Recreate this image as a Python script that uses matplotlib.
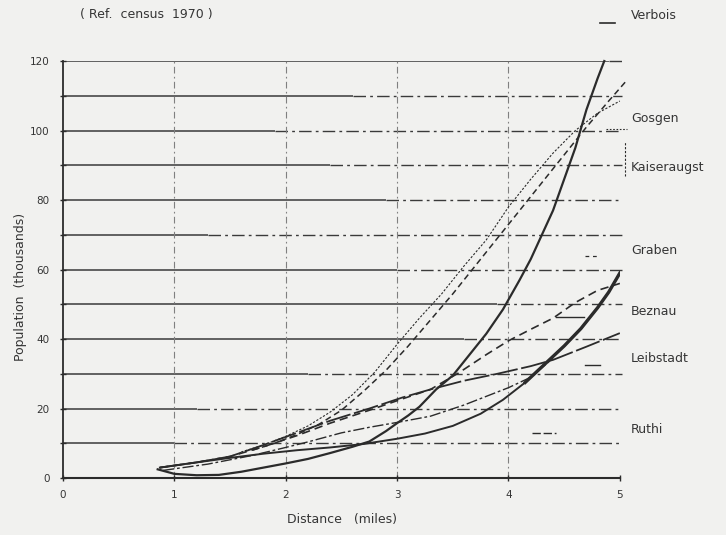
import matplotlib
matplotlib.use("Agg")
import matplotlib.pyplot as plt

# population within distance of each site (thousands)
verbois_x = [0.85, 1.0, 1.2, 1.4, 1.6, 1.8, 2.0, 2.2, 2.4, 2.6, 2.75, 2.9, 3.0, 3.1, 3.2,
             3.35, 3.5, 3.65, 3.8, 3.95, 4.1, 4.2, 4.3, 4.4, 4.5, 4.6, 4.7, 4.8, 4.86]
verbois_y = [2.5, 1.2, 0.8, 0.9, 1.8, 3.0, 4.2, 5.5, 7.2, 9.0, 10.5, 13.5, 15.8, 18.0, 20.5,
             25.5, 29.5, 35.5, 41.5, 48.5, 57, 63, 70, 77, 86, 95, 106, 115, 120]

gosgen_x = [1.6, 1.8, 2.0, 2.2, 2.4, 2.6, 2.8, 3.0, 3.2, 3.4, 3.6, 3.8, 4.0, 4.2, 4.4, 4.6, 4.8, 5.0]
gosgen_y = [7.5, 9.5, 12, 15, 19, 24, 30.5, 38.5, 46, 53, 61, 68.5, 78, 86, 93.5, 100, 105, 108.5]

kaiseraugst_x = [1.7, 1.9, 2.1, 2.3, 2.5, 2.7, 2.9, 3.1, 3.3, 3.5, 3.7, 3.9, 4.1, 4.3, 4.5, 4.7, 4.9, 5.05]
kaiseraugst_y = [8, 10, 12.5, 15.5, 19.5, 25, 31, 38, 45.5, 53, 61, 69, 77, 85, 93, 101, 108.5, 114]

graben_x = [0.87, 1.2, 1.5, 1.8, 2.1, 2.4, 2.7, 3.0, 3.25, 3.5, 3.75, 3.95, 4.15, 4.35,
            4.5, 4.65, 4.8, 4.9, 5.0]
graben_y = [3.0, 4.5, 5.8, 7.0, 8.0, 8.8, 9.8, 11.3, 12.8, 15.0, 18.5, 22.5, 27.5, 33.5,
            38, 43, 49, 53.5, 59]

beznau_x = [0.87, 1.2, 1.5, 1.8, 2.1, 2.4, 2.75, 3.05, 3.3, 3.55, 3.8, 4.0, 4.2, 4.4, 4.6, 4.8, 5.0]
beznau_y = [3.0, 4.5, 6.2, 9.0, 12.2, 15.8, 19.5, 22.8, 25.5, 30.2, 35.5, 39.5, 42.8, 46.0, 50.5, 54.0, 56.0]

leibstadt_x = [0.87, 1.2, 1.5, 1.8, 2.1, 2.4, 2.75, 3.05, 3.3, 3.6, 3.9, 4.2, 4.4, 4.7, 5.0]
leibstadt_y = [3.0, 4.5, 6.2, 9.5, 13.0, 16.5, 20.0, 23.2, 25.5, 28.0, 30.0, 32.2, 34.0, 37.8, 41.7]

ruthi_x = [0.9, 1.3, 1.7, 2.0, 2.2, 2.5, 2.75, 3.0, 3.3, 3.6, 3.8, 4.0, 4.2, 4.4]
ruthi_y = [2.2, 4.0, 6.5, 8.8, 10.4, 13.0, 14.6, 16.0, 17.8, 21.0, 23.5, 26.0, 29.0, 34.5]

site_names = ["Verbois", "Gosgen", "Kaiseraugst", "Graben", "Beznau", "Leibstadt", "Ruthi"]
label_y = [133, 103.5, 89.5, 65.5, 48, 34.5, 14]

x_ticks = [0, 1, 2, 3, 4, 5]
y_ticks = [0, 20, 40, 60, 80, 100, 120]
y_grid = [10, 20, 30, 40, 50, 60, 70, 80, 90, 100, 110, 120]

ink = "#2b2b2b"
txt = "#353535"
paper = "#f1f1ef"

fig = plt.figure(figsize=(7.26, 5.35), dpi=100, facecolor=paper)
ax = fig.add_axes([0.0868, 0.1065, 0.767, 0.7794])
ax.set_facecolor(paper)
ax.set_xlim(0, 5)
ax.set_ylim(0, 120)

# grid: horizontal lines mostly solid on the left, broken towards the right
solid_to = [4.9, 2.6, 1.9, 2.4, 2.9, 1.3, 3.0, 3.9, 3.6, 2.2, 1.2, 1.0]
for yv, xs in zip(y_grid[::-1], solid_to):
    ax.plot([0, xs], [yv, yv], color="#3a3a3a", lw=1.1, solid_capstyle="butt", zorder=1)
    ax.plot([xs, 5.02], [yv, yv], color="#3a3a3a", lw=1.0, ls=(0, (9, 3, 2, 3)),
            zorder=1, clip_on=False)
for xv in x_ticks[1:-1]:
    ax.axvline(xv, color="#808080", lw=0.8, ls=(0, (6, 3, 1.5, 3)), zorder=1)

# curves
ax.plot(ruthi_x, ruthi_y, color=ink, lw=1.0, ls=(0, (8, 2, 2, 2)), zorder=3)
ax.plot(leibstadt_x, leibstadt_y, color=ink, lw=1.3, ls=(0, (14, 2)), zorder=3)
ax.plot(beznau_x, beznau_y, color=ink, lw=1.2, ls=(0, (5, 3)), zorder=3)
ax.plot(graben_x, graben_y, color=ink, lw=1.4, zorder=3)
ax.plot(graben_x[-7:], graben_y[-7:], color=ink, lw=2.4, zorder=3)
ax.plot(gosgen_x, gosgen_y, color=ink, lw=0.8, ls=(0, (2, 1.5)), zorder=3, clip_on=False)
ax.plot(kaiseraugst_x, kaiseraugst_y, color=ink, lw=1.1, ls=(0, (4, 2.5)), zorder=3, clip_on=False)
ax.plot(verbois_x, verbois_y, color=ink, lw=1.6, zorder=4, clip_on=False)

# site labels on the right, with small line samples
for name, yv in zip(site_names, label_y):
    ax.text(5.1, yv, name, fontsize=9, color=txt, va="center", ha="left", clip_on=False)
ax.plot([4.82, 4.96], [131, 131], color=ink, lw=1.2, clip_on=False)
ax.plot([4.88, 5.06], [100.5, 100.5], color=ink, lw=0.8, ls=(0, (1.5, 1.5)), clip_on=False)
ax.plot([5.05, 5.05], [87, 97], color=ink, lw=0.8, ls=(0, (2, 1.5)), clip_on=False)
ax.plot([4.69, 4.82], [64, 64], color=ink, lw=0.9, ls=(0, (3, 3)), clip_on=False)
ax.plot([4.43, 4.68], [46.3, 46.3], color=ink, lw=1.0, clip_on=False)
ax.plot([4.69, 4.82], [32.5, 32.5], color=ink, lw=1.0, clip_on=False)
ax.plot([4.21, 4.43], [13, 13], color=ink, lw=1.0, ls=(0, (6, 2)), clip_on=False)

# axes
for s in ["top", "right"]:
    ax.spines[s].set_visible(False)
ax.spines["left"].set_color(ink)
ax.spines["left"].set_linewidth(1.3)
ax.spines["bottom"].set_color(ink)
ax.spines["bottom"].set_linewidth(1.5)
ax.set_xticks(x_ticks)
ax.set_yticks(y_ticks)
ax.set_yticks(y_grid, minor=True)
ax.tick_params(axis="both", colors=ink, labelcolor=txt, labelsize=7.5,
               direction="inout", length=5, width=1)
ax.tick_params(axis="y", which="minor", direction="inout", length=4, width=1, colors=ink)
ax.tick_params(axis="y", pad=7)
ax.tick_params(axis="x", pad=6)

fig.text(0.11, 0.972, "( Ref.  census  1970 )", fontsize=9, color=txt, ha="left", va="center")
fig.text(0.028, 1 - 287 / 535, "Population  (thousands)", fontsize=9, color=txt,
         rotation=90, ha="center", va="center")
fig.text(342 / 726, 1 - 519 / 535, "Distance   (miles)", fontsize=9, color=txt,
         ha="center", va="center")

fig.savefig("out.png", dpi=100, facecolor=paper)
